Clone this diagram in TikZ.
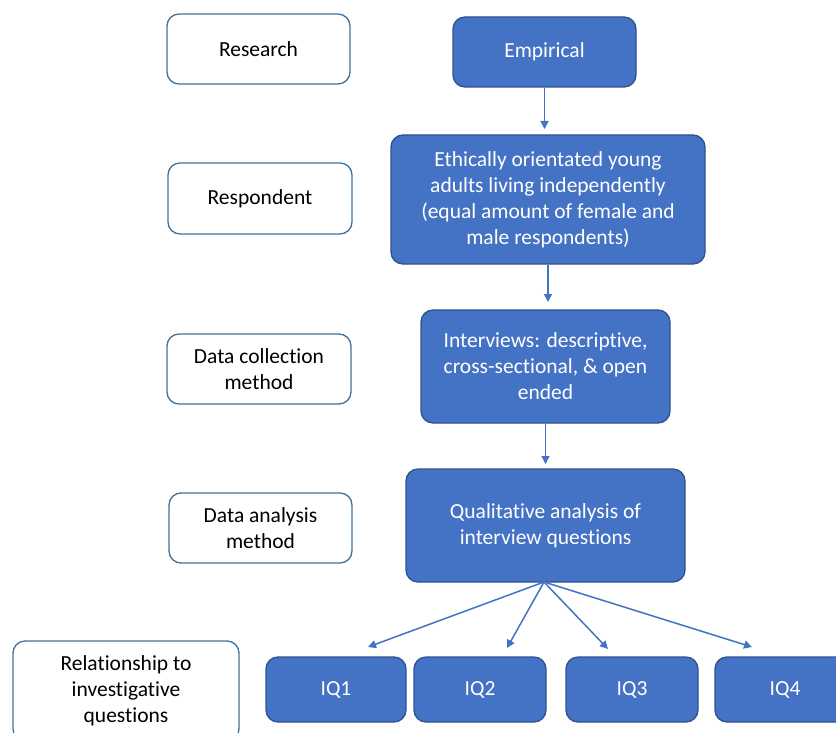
\documentclass[tikz,border=0pt]{standalone}
\usepackage{fontspec}
\setmainfont{Carlito}[Ligatures=NoCommon]
\usetikzlibrary{arrows.meta}
\definecolor{boxblue}{HTML}{4472C4}
\definecolor{boxedge}{HTML}{2F528F}
\definecolor{labeledge}{HTML}{41719C}
\begin{document}
\begin{tikzpicture}[x=1pt,y=-1pt,
  labelbox/.style={draw=labeledge, line width=1.3pt, fill=white, rounded corners=12pt,
    align=center, font=\fontsize{21.5}{26}\selectfont, text=black, inner sep=0pt},
  stepbox/.style={draw=boxedge, line width=1.3pt, fill=boxblue, rounded corners=12pt,
    align=center, font=\fontsize{21.5}{26}\selectfont, text=white, inner sep=0pt},
  flow/.style={draw=boxblue, line width=1.5pt, -{Triangle[width=8pt,length=8pt]}}]
\useasboundingbox (0,0) rectangle (836,733);
\fill[white] (0,0) rectangle (836,733);

% left column: stage labels
\node[labelbox, minimum width=183pt, minimum height=70pt] (research) at (258.5,49) {Research};
\node[labelbox, minimum width=184pt, minimum height=71pt] (respondent) at (260,198.5) {Respondent};
\node[labelbox, minimum width=184pt, minimum height=70pt] (collection) at (259,369) {Data collection\\method};
\node[labelbox, minimum width=183pt, minimum height=70pt] (analysis) at (260.5,528) {Data analysis\\method};
\node[labelbox, minimum width=226pt, minimum height=100pt] (relation) at (126,691) {Relationship to\\investigative\\questions};

% right column: study design steps
\node[stepbox, minimum width=183pt, minimum height=70pt] (empirical) at (544.5,52) {Empirical};
\node[stepbox, minimum width=314pt, minimum height=129pt] (sample) at (548,199.5)
  {Ethically orientated young\\adults living independently\\(equal amount of female and\\male respondents)};
\node[stepbox, minimum width=249pt, minimum height=113pt] (interviews) at (545.5,366.5)
  {Interviews: descriptive,\\cross-sectional, \& open\\ended};
\node[stepbox, minimum width=279pt, minimum height=113pt] (qualitative) at (545.5,525.5)
  {Qualitative analysis of\\interview questions};

% investigative questions
\node[stepbox, minimum width=140pt, minimum height=65pt] (iq1) at (336,689.5) {IQ1};
\node[stepbox, minimum width=132pt, minimum height=65pt] (iq2) at (480,689.5) {IQ2};
\node[stepbox, minimum width=132pt, minimum height=65pt] (iq3) at (632,689.5) {IQ3};
\node[stepbox, minimum width=140pt, minimum height=65pt] (iq4) at (785,689.5) {IQ4};

% arrow tips above the question boxes
\coordinate (t1) at (368,647);
\coordinate (t2) at (507,648);
\coordinate (t3) at (608,649);
\coordinate (t4) at (752,647);

\draw[flow] (empirical.south) -- (empirical.south |- 0,129);
\draw[flow] (sample.south) -- (sample.south |- 0,302);
\draw[flow] (interviews.south) -- (interviews.south |- 0,464);
\coordinate (fan) at (544,582);
\draw[flow] (fan) -- (t1);
\draw[flow] (fan) -- (t2);
\draw[flow] (fan) -- (t3);
\draw[flow] (fan) -- (t4);
\end{tikzpicture}
\end{document}
